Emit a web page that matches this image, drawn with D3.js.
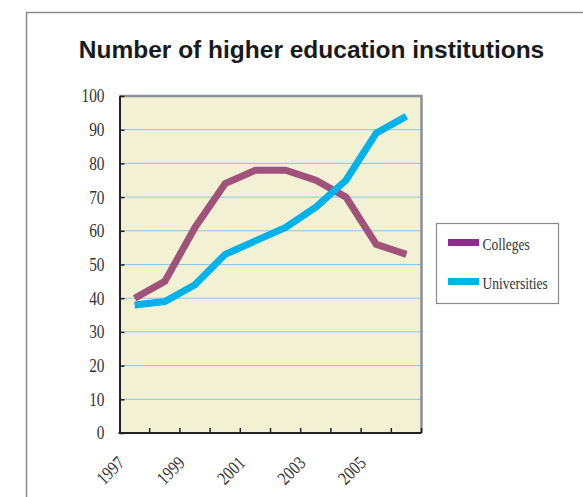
<!DOCTYPE html>
<html><head><meta charset="utf-8">
<script src="https://cdn.jsdelivr.net/npm/d3@7"></script>
<style>
html,body{margin:0;padding:0;background:#fff;}
svg{display:block;}
</style></head>
<body>
<svg id="chart" width="583" height="497"></svg>
<script>
const title = "Number of higher education institutions";
const years = [1997,1998,1999,2000,2001,2002,2003,2004,2005,2006];
const yearLabels = [1997,1999,2001,2003,2005];
const colleges = [40,45,61,74,78,78,75,70,56,53];
const universities = [38,39,44,53,57,61,67,75,89,94];
const yTicks = [0,10,20,30,40,50,60,70,80,90,100];
const seriesNames = ["Colleges","Universities"];

const svg = d3.select("#chart");
const W = 583, H = 497;
const L = 119.5, R = 421.5, T = 96, B = 433;
const serif = "Liberation Serif, Times New Roman, serif";
const sx = 0.83;

// outer frame
svg.append("rect").attr("x",26.5).attr("y",12.5).attr("width",W).attr("height",H)
  .attr("fill","#fff").attr("stroke","#8a8a8a").attr("stroke-width",1.5);

// title
svg.append("text").attr("x",311.5).attr("y",58).attr("text-anchor","middle")
  .attr("font-family","Liberation Sans, Arial, sans-serif").attr("font-weight","bold")
  .attr("font-size",24.5).attr("fill","#1a1a1a").text(title);

const x = d3.scaleBand().domain(years).range([L,R]).padding(0);
const y = d3.scaleLinear().domain([0,100]).range([B,T]);

// plot background
svg.append("rect").attr("x",L).attr("y",T).attr("width",R-L).attr("height",B-T).attr("fill","#f3f1d4");

// gridlines
svg.append("g").selectAll("line").data(yTicks.filter(v=>v>0&&v<100)).join("line")
  .attr("x1",L).attr("x2",R).attr("y1",d=>y(d)).attr("y2",d=>y(d))
  .attr("stroke","#8ec6e6").attr("stroke-width",1);

// top and right border
svg.append("path").attr("d",`M${L},${T}H${R}V${B}`).attr("fill","none")
  .attr("stroke","#8b9196").attr("stroke-width",2.5);

// lines
const line = d3.line().x((d,i)=>x(years[i])+x.bandwidth()/2).y(d=>y(d));
svg.append("path").datum(colleges).attr("d",line).attr("fill","none")
  .attr("stroke","#a0527b").attr("stroke-width",7).attr("stroke-linejoin","miter").attr("stroke-linecap","butt");
svg.append("path").datum(universities).attr("d",line).attr("fill","none")
  .attr("stroke","#00b2ea").attr("stroke-width",7).attr("stroke-linejoin","miter").attr("stroke-linecap","butt");

// y axis
const yAxis = d3.axisLeft(y).tickValues(yTicks).tickSizeInner(-5).tickSizeOuter(0).tickPadding(15);
const gy = svg.append("g").attr("transform",`translate(${L},0)`).call(yAxis);
gy.select(".domain").attr("stroke","#222").attr("stroke-width",2);
gy.selectAll(".tick line").attr("stroke","#222").attr("stroke-width",1.5);
gy.selectAll(".tick text").attr("font-family",serif)
  .attr("font-size",18.5).attr("fill","#333")
  .attr("transform",function(){const xx=+d3.select(this).attr("x");return `translate(${xx*(1-sx)},0) scale(${sx},1)`;});

// x axis: ticks at band boundaries
const gx = svg.append("g");
gx.append("line").attr("x1",L-1).attr("x2",R).attr("y1",B).attr("y2",B).attr("stroke","#222").attr("stroke-width",2);
gx.selectAll("line.tk").data(years.slice(1)).join("line").attr("class","tk")
  .attr("x1",d=>x(d)).attr("x2",d=>x(d)).attr("y1",B).attr("y2",B-5)
  .attr("stroke","#222").attr("stroke-width",1.5);
gx.append("line").attr("x1",R).attr("x2",R).attr("y1",B).attr("y2",B-5).attr("stroke","#222").attr("stroke-width",1.5);
gx.selectAll("text").data(yearLabels).join("text")
  .attr("transform",d=>`translate(${x(d)+x.bandwidth()/2-9},${B+31}) rotate(-45) scale(${sx},1)`)
  .attr("text-anchor","end")
  .attr("font-family",serif).attr("font-size",18.5).attr("fill","#333")
  .text(d=>d);

// legend
const lg = svg.append("g");
lg.append("rect").attr("x",436.5).attr("y",223.5).attr("width",122).attr("height",80)
  .attr("fill","#fff").attr("stroke","#8a8a8a").attr("stroke-width",1.2);
const legColors = ["#8e2c8e","#00b2ea"];
seriesNames.forEach((n,i)=>{
  const yy = 242.5 + i*39;
  lg.append("rect").attr("x",448).attr("y",yy-3.5).attr("width",31).attr("height",7).attr("fill",legColors[i]);
  lg.append("text").attr("transform",`translate(482.5,${yy+7.5}) scale(0.82,1)`)
    .attr("font-family",serif).attr("font-size",16.5).attr("fill","#333").text(n);
});
</script>
</body></html>
